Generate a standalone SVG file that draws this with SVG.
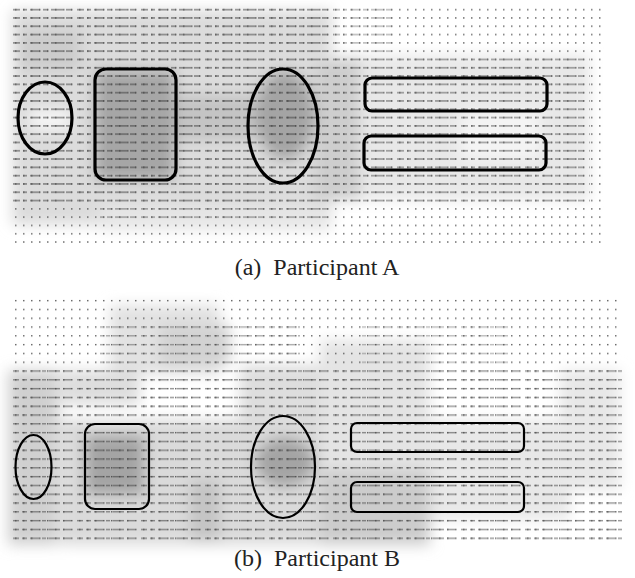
<svg xmlns="http://www.w3.org/2000/svg" width="635" height="578" viewBox="0 0 635 578">
<style>
.shape{fill:none;stroke:#000;}
.a{stroke-width:3.2;}
.b{stroke-width:2.2;}
.cap{font-family:"Liberation Serif","DejaVu Serif",serif;font-size:24px;fill:#222;white-space:pre;}
</style>
<defs>
<filter id="blur" x="-20%" y="-20%" width="140%" height="140%"><feGaussianBlur stdDeviation="7"/></filter>
<pattern id="dotsA" patternUnits="userSpaceOnUse" x="12" y="6" width="8" height="8.3">
<rect x="3" y="3" width="1.5" height="1.3" fill="#333"/>
</pattern>
<pattern id="dashA" patternUnits="userSpaceOnUse" x="12" y="6" width="64" height="8.3">
<rect x="1" y="3" width="7" height="1.3" fill="#333"/>
<rect x="11" y="3" width="4" height="1.3" fill="#333"/>
<rect x="18" y="3" width="10" height="1.3" fill="#333"/>
<rect x="31" y="3" width="5" height="1.3" fill="#333"/>
<rect x="39" y="3" width="12" height="1.3" fill="#333"/>
<rect x="54" y="3" width="6" height="1.3" fill="#333"/>
</pattern>
<pattern id="dotsB" patternUnits="userSpaceOnUse" x="12" y="297" width="8" height="8.8">
<rect x="3" y="3" width="1.5" height="1.3" fill="#333"/>
</pattern>
<pattern id="dashB" patternUnits="userSpaceOnUse" x="12" y="297" width="64" height="8.8">
<rect x="1" y="3" width="6" height="1.3" fill="#333"/>
<rect x="10" y="3" width="5" height="1.3" fill="#333"/>
<rect x="18" y="3" width="9" height="1.3" fill="#333"/>
<rect x="30" y="3" width="4" height="1.3" fill="#333"/>
<rect x="37" y="3" width="11" height="1.3" fill="#333"/>
<rect x="51" y="3" width="8" height="1.3" fill="#333"/>
</pattern>
</defs>
<rect width="635" height="578" fill="#fff"/>

<!-- Panel A heat -->
<g id="heatA" filter="url(#blur)">
<rect x="12" y="10" width="320" height="215" fill="#dcdcdc"/>
<rect x="100" y="205" width="230" height="25" fill="#e6e6e6"/>
<rect x="315" y="55" width="275" height="145" fill="#e8e8e8"/>
<rect x="20" y="30" width="60" height="40" fill="#cccccc"/>
<rect x="95" y="70" width="80" height="110" fill="#a6a6a6"/>
<rect x="175" y="95" width="80" height="45" fill="#c4c4c4"/>
<ellipse cx="285" cy="115" rx="30" ry="45" fill="#a4a4a4"/>
<rect x="315" y="60" width="45" height="140" fill="#cecece"/>
<rect x="30" y="110" width="40" height="20" fill="#f6f6f6"/>
<rect x="460" y="110" width="80" height="50" fill="#f4f4f4"/>
</g>
<g id="textureA" opacity="0.8">
<rect x="10" y="5" width="595" height="242" fill="url(#dotsA)"/>
<rect x="12" y="5" width="322" height="200" fill="url(#dashA)" opacity="0.8"/>
<rect x="100" y="205" width="230" height="18" fill="url(#dashA)" opacity="0.6"/>
<rect x="334" y="55" width="256" height="148" fill="url(#dashA)" opacity="0.7"/>
<rect x="334" y="5" width="60" height="50" fill="url(#dashA)" opacity="0.5"/>
</g>
<g id="a-ellipse-left"><ellipse class="shape a" cx="45" cy="118" rx="27" ry="36"/></g>
<g id="a-rect-left"><rect class="shape a" x="95" y="69" width="81" height="111" rx="11"/></g>
<g id="a-ellipse-mid"><ellipse class="shape a" cx="283" cy="126" rx="35" ry="57"/></g>
<g id="a-rect-top"><rect class="shape a" x="365" y="78" width="182" height="33" rx="7"/></g>
<g id="a-rect-bottom"><rect class="shape a" x="364" y="136" width="182" height="34" rx="7"/></g>
<text class="cap" x="317" y="275" text-anchor="middle">(a)  Participant A</text>

<!-- Panel B heat -->
<g id="heatB" filter="url(#blur)">
<rect x="8" y="370" width="50" height="175" fill="#d0d0d0"/>
<rect x="60" y="420" width="270" height="125" fill="#dadada"/>
<rect x="110" y="305" width="110" height="70" fill="#e2e2e2"/>
<rect x="160" y="325" width="70" height="40" fill="#d2d2d2"/>
<rect x="85" y="435" width="60" height="60" fill="#a4a4a4"/>
<ellipse cx="285" cy="462" rx="30" ry="25" fill="#a4a4a4"/>
<rect x="60" y="370" width="80" height="35" fill="#dedede"/>
<rect x="240" y="365" width="90" height="55" fill="#dedede"/>
<rect x="320" y="340" width="110" height="205" fill="#e4e4e4"/>
<rect x="320" y="470" width="110" height="75" fill="#cccccc"/>
<rect x="430" y="420" width="140" height="100" fill="#e8e8e8"/>
<rect x="560" y="370" width="60" height="120" fill="#e8e8e8"/>
<rect x="190" y="480" width="30" height="60" fill="#c4c4c4"/>
</g>
<g id="textureB" opacity="0.8">
<rect x="10" y="295" width="612" height="250" fill="url(#dotsB)"/>
<rect x="10" y="370" width="612" height="175" fill="url(#dashB)" opacity="0.7"/>
<rect x="100" y="320" width="200" height="45" fill="url(#dashB)" opacity="0.55"/>
<rect x="360" y="320" width="150" height="45" fill="url(#dashB)" opacity="0.45"/>
</g>
<g id="b-ellipse-left"><ellipse class="shape b" cx="33.5" cy="467" rx="18" ry="32"/></g>
<g id="b-rect-left"><rect class="shape b" x="85" y="424" width="64" height="85" rx="10"/></g>
<g id="b-ellipse-mid"><ellipse class="shape b" cx="283" cy="467" rx="32" ry="51"/></g>
<g id="b-rect-top"><rect class="shape b" x="351" y="423" width="173" height="29" rx="6"/></g>
<g id="b-rect-bottom"><rect class="shape b" x="351" y="482" width="173" height="30" rx="6"/></g>
<text class="cap" x="317" y="566" text-anchor="middle">(b)  Participant B</text>
</svg>
